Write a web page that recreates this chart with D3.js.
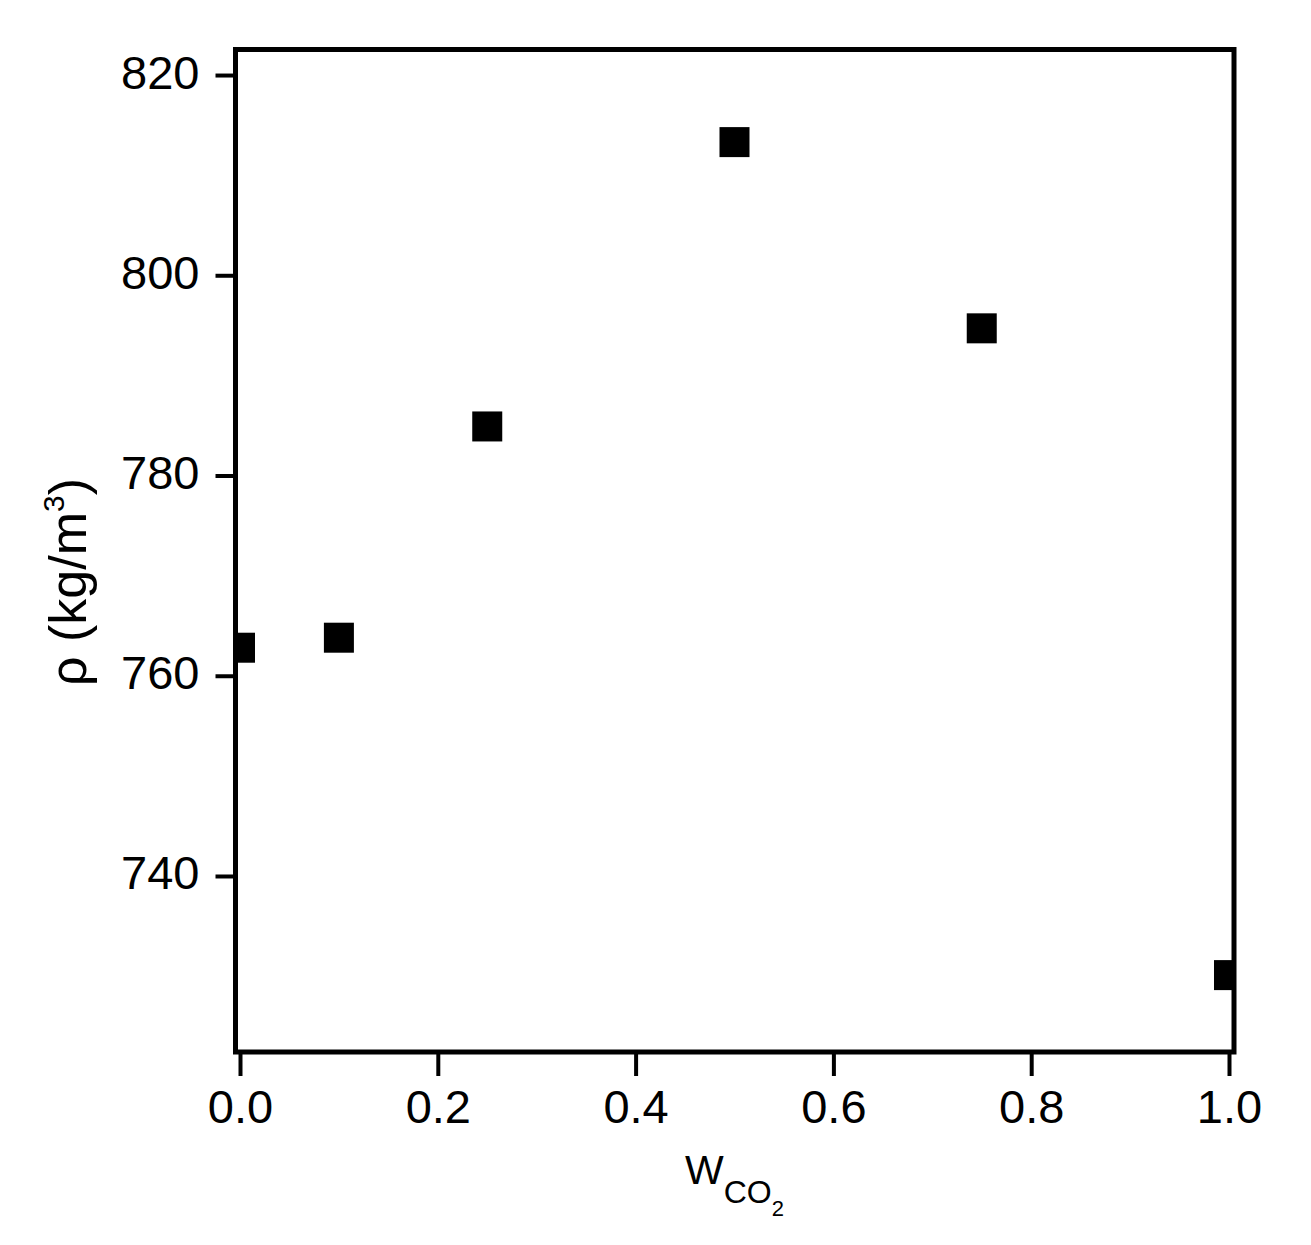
<!DOCTYPE html>
<html>
<head>
<meta charset="utf-8">
<script src="https://cdn.jsdelivr.net/npm/d3@7"></script>
<style>
  body { margin: 0; background: #fff; }
  svg text { font-family: "Liberation Sans", Arial, sans-serif; fill: #000; }
</style>
</head>
<body>
<div class="chart"></div>
<script>
// data
var wCO2 = [0, 0.1, 0.25, 0.5, 0.75, 1.0];
var density = [762.8, 763.8, 784.9, 813.3, 794.7, 730.1];
var xTicks = [0, 0.2, 0.4, 0.6, 0.8, 1.0];
var yTicks = [740, 760, 780, 800, 820];

var width = 1311,
    height = 1245,
    plotLeft = 235.5, plotRight = 1234,
    plotTop = 49.5, plotBottom = 1052;

var svg = d3.select(".chart").append("svg")
    .attr("width", width)
    .attr("height", height);

var x = d3.scaleLinear().domain([-0.00455, 1.00506]).range([plotLeft, plotRight]);
var y = d3.scaleLinear().domain([722.42, 822.55]).range([plotBottom, plotTop]);

svg.append("defs").append("clipPath").attr("id", "plot")
    .append("rect")
    .attr("x", plotLeft).attr("y", plotTop)
    .attr("width", plotRight - plotLeft).attr("height", plotBottom - plotTop);

// points
svg.append("g").attr("clip-path", "url(#plot)")
    .selectAll("rect")
    .data(wCO2)
    .enter()
    .append("rect")
    .attr("x", function (d) { return x(d) - 15; })
    .attr("y", function (d, i) { return y(density[i]) - 15; })
    .attr("width", 30)
    .attr("height", 30)
    .style("fill", "#000");

// axes
var xAxis = svg.append("g")
    .attr("transform", "translate(0," + plotBottom + ")")
    .call(d3.axisBottom(x).tickValues(xTicks).tickFormat(d3.format(".1f"))
        .tickSize(24).tickSizeOuter(0).tickPadding(14));
var yAxis = svg.append("g")
    .attr("transform", "translate(" + plotLeft + ",0)")
    .call(d3.axisLeft(y).tickValues(yTicks).tickFormat(d3.format("d"))
        .tickSize(20).tickSizeOuter(0).tickPadding(16));

[xAxis, yAxis].forEach(function (a) {
    a.select(".domain").remove();
    a.selectAll(".tick line").style("stroke", "#000").style("stroke-width", 4);
    a.selectAll(".tick text").style("font-size", "47px").style("fill", "#000");
});
xAxis.selectAll(".tick text").attr("dy", "0.71em");
yAxis.selectAll(".tick text").attr("dy", "13px");

// frame
svg.append("rect")
    .attr("x", plotLeft).attr("y", plotTop)
    .attr("width", plotRight - plotLeft).attr("height", plotBottom - plotTop)
    .style("fill", "none")
    .style("stroke", "#000")
    .style("stroke-width", 5);

// x title: W with subscript CO2
var xt = svg.append("text")
    .attr("x", (x(0) + x(1)) / 2)
    .attr("y", 1184)
    .attr("text-anchor", "middle");
xt.append("tspan").style("font-size", "41px").text("W");
xt.append("tspan").style("font-size", "32px").attr("dy", 19).text("CO");
xt.append("tspan").style("font-size", "22px").attr("dy", 13).text("2");

// y title
var yt = svg.append("text")
    .attr("transform", "translate(86,582) rotate(-90)")
    .attr("text-anchor", "middle")
    .style("font-size", "52px");
yt.append("tspan").text("ρ (kg/m");
yt.append("tspan").style("font-size", "30px").attr("dy", -22).text("3");
yt.append("tspan").attr("dy", 22).text(")");
</script>
</body>
</html>
